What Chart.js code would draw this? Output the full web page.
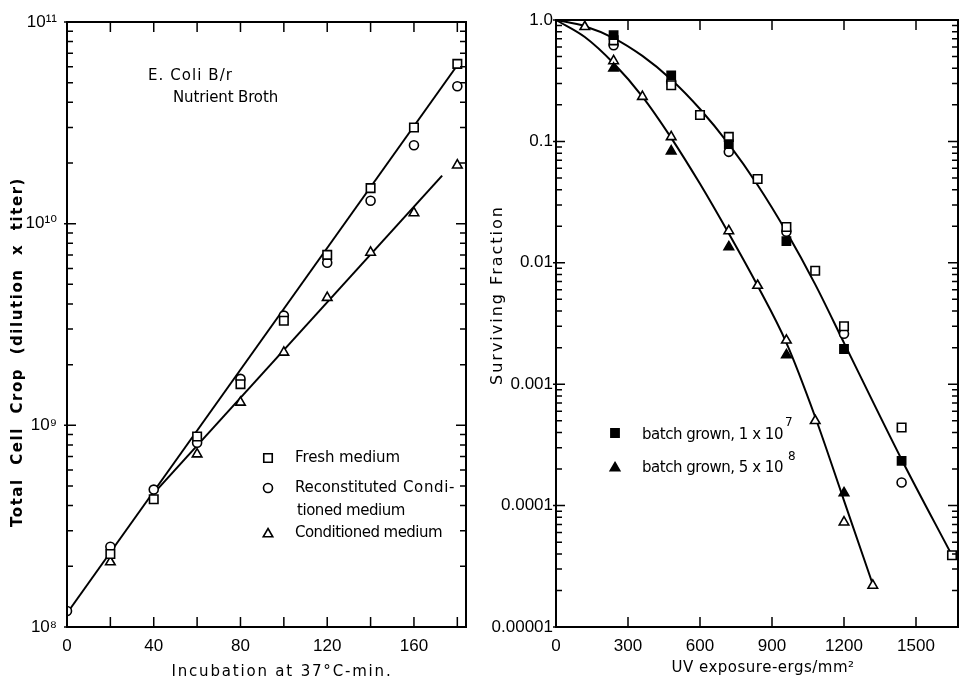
<!DOCTYPE html>
<html>
<head>
<meta charset="utf-8">
<script src="https://cdn.jsdelivr.net/npm/chart.js@4.4.0/dist/chart.umd.min.js"></script>
<style>
  body { margin: 0; background: #fff; }
  #wrap { position: relative; width: 960px; height: 684px; }
  canvas { position: absolute; top: 0; }
</style>
</head>
<body>
<div id="wrap">
  <canvas id="growth" width="480" height="684" style="left:0"></canvas>
  <canvas id="survival" width="480" height="684" style="left:480px"></canvas>
</div>
<script>
// ---- left panel: growth, incubation at 37 C (min) ----
const minutes   = [0, 20, 40, 60, 80, 100, 120, 140, 160, 180];
const freshCrop = [null, 2.3e8, 4.3e8, 8.8e8, 1.6e9, 3.3e9, 7.0e9, 1.5e10, 3.0e10, 6.2e10];
const reconCrop = [1.2e8, 2.5e8, 4.8e8, 8.2e8, 1.7e9, 3.5e9, 6.4e9, 1.3e10, 2.45e10, 4.8e10];
const condCrop  = [null, 2.1e8, null, 7.2e8, 1.3e9, 2.3e9, 4.3e9, 7.2e9, 1.13e10, 1.95e10];
const freshFitX = [0, 180];
const freshFitY = [1.17e8, 6.1e10];
const condFitX  = [40, 173];
const condFitY  = [4.6e8, 1.73e10];
const timeTicks  = [0, 20, 40, 60, 80, 100, 120, 140, 160, 180];
const timeLabels = [0, 40, 80, 120, 160];
const cropDecades = [1e8, 1e9, 1e10, 1e11];
const cropLabels  = ['10⁸', '10⁹', '10¹⁰', '10¹¹'];

// ---- right panel: survival vs UV dose ----
const sqDose   = [240, 480, 600, 720, 840, 960, 1080, 1200, 1440, 1650];
const sqFrac   = [0.68, 0.29, 0.165, 0.109, 0.049, 0.0197, 0.0086, 0.003, 0.00044, 0.000039];
const circDose = [240, 480, 720, 960, 1200, 1440];
const circFrac = [0.62, 0.31, 0.082, 0.018, 0.0026, 0.000155];
const fsqDose  = [240, 480, 720, 960, 1200, 1440];
const fsqFrac  = [0.75, 0.35, 0.095, 0.0151, 0.00195, 0.000234];
const triDose  = [120, 240, 360, 480, 720, 840, 960, 1080, 1200, 1320];
const triFrac  = [0.88, 0.46, 0.234, 0.109, 0.0183, 0.0065, 0.0023, 0.0005, 0.000073, 0.000022];
const ftriDose = [240, 480, 720, 960, 1200];
const ftriFrac = [0.40, 0.083, 0.0135, 0.00174, 0.000127];
// drawn survival curves
const upperDose = [0, 120, 240, 360, 480, 600, 720, 840, 960, 1080, 1200, 1440, 1650];
const upperFrac = [1.0, 0.889, 0.71, 0.506, 0.324, 0.185, 0.095, 0.0438, 0.018, 0.00664, 0.00219, 0.00024, 0.0000389];
const lowerDose = [0, 120, 240, 360, 480, 600, 720, 840, 960, 1080, 1200, 1320];
const lowerFrac = [1.0, 0.724, 0.44, 0.234, 0.107, 0.0447, 0.0174, 0.00646, 0.00219, 0.000537, 0.00011, 0.0000224];
const doseTicks = [0, 300, 600, 900, 1200, 1500];
const fracDecades = [1e-5, 1e-4, 1e-3, 1e-2, 1e-1, 1];
const fracLabels  = ['0.00001', '0.0001', '0.001', '0.01', '0.1', '1.0'];

const FONT = '"Liberation Sans", "DejaVu Sans", Arial, sans-serif';
const TFONT = '"DejaVu Sans", "Liberation Sans", sans-serif';

const pts = (xs, ys) => xs.map((x, i) => ({ x: x, y: ys[i] })).filter(p => p.y != null);
const minors = dec => {
  const out = [];
  dec.slice(0, -1).forEach(d => { for (let k = 2; k <= 9; k++) out.push(d * k); });
  return out;
};

function marker(label, data, style, r, filled) {
  return {
    label: label, data: data, pointStyle: style, pointRadius: r,
    pointBackgroundColor: filled ? '#000' : '#fff', pointBorderColor: '#000',
    pointBorderWidth: 1.6, showLine: false, order: 0
  };
}
function fit(data) {
  return {
    data: data, showLine: true, pointRadius: 0, borderColor: '#000', borderWidth: 2,
    cubicInterpolationMode: 'monotone', tension: 0.4, order: 1, clip: 4
  };
}

// draws the box and inward tick marks
function frame(xTicks, yMajor, yMinor) {
  return {
    id: 'frame',
    afterDraw(chart) {
      const { ctx, chartArea: a, scales: { x, y } } = chart;
      ctx.save();
      ctx.strokeStyle = '#000';
      ctx.lineWidth = 2;
      ctx.strokeRect(a.left, a.top, a.right - a.left, a.bottom - a.top);
      ctx.lineWidth = 1.5;
      ctx.beginPath();
      xTicks.forEach(v => {
        const p = x.getPixelForValue(v);
        ctx.moveTo(p, a.bottom); ctx.lineTo(p, a.bottom - 10);
        ctx.moveTo(p, a.top); ctx.lineTo(p, a.top + 10);
      });
      yMajor.forEach(v => {
        const p = y.getPixelForValue(v);
        ctx.moveTo(a.left - 3, p); ctx.lineTo(a.left + 9, p);
        ctx.moveTo(a.right, p); ctx.lineTo(a.right - 10, p);
      });
      yMinor.forEach(v => {
        const p = y.getPixelForValue(v);
        ctx.moveTo(a.left, p); ctx.lineTo(a.left + 6, p);
        ctx.moveTo(a.right, p); ctx.lineTo(a.right - 6, p);
      });
      ctx.stroke();
      ctx.restore();
    }
  };
}

function drawMark(ctx, style, x, y, r, filled) {
  ctx.beginPath();
  if (style === 'rect') {
    const s = r * Math.SQRT1_2;
    ctx.rect(x - s, y - s, 2 * s, 2 * s);
  } else if (style === 'circle') {
    ctx.arc(x, y, r, 0, Math.PI * 2);
  } else {
    ctx.moveTo(x, y - r);
    ctx.lineTo(x + r * Math.sin(Math.PI / 3), y + r / 2);
    ctx.lineTo(x - r * Math.sin(Math.PI / 3), y + r / 2);
    ctx.closePath();
  }
  ctx.fillStyle = filled ? '#000' : '#fff';
  ctx.fill();
  ctx.lineWidth = 1.6;
  ctx.strokeStyle = '#000';
  ctx.stroke();
}

// free text and legend keys
function notes(texts, keys) {
  return {
    id: 'notes',
    afterDraw(chart) {
      const ctx = chart.ctx;
      keys.forEach(k => { ctx.save(); drawMark(ctx, k.s, k.x, k.y, k.r, k.f); ctx.restore(); });
      texts.forEach(it => {
        ctx.save();
        ctx.font = it.font || ('15px ' + TFONT);
        ctx.fillStyle = '#000';
        ctx.textBaseline = 'middle';
        ctx.textAlign = it.align || 'left';
        ctx.translate(it.x, it.y);
        if (it.rot) ctx.rotate(it.rot);
        if (it.w) {
          ctx.letterSpacing = '0px';
          const w0 = ctx.measureText(it.t).width;
          ctx.letterSpacing = ((it.w - w0) / it.t.length) + 'px';
        }
        ctx.fillText(it.t, 0, 0);
        ctx.restore();
      });
    }
  };
}

function axes(xMax, xLabels, yMin, yMax, yDec, yLab, yWidth, yPad) {
  return {
    x: {
      type: 'linear', min: 0, max: xMax,
      afterBuildTicks: s => { s.ticks = xLabels.map(v => ({ value: v })); },
      afterFit: s => { s.height = 57; s.paddingLeft = 0; s.paddingRight = 0; },
      grid: { display: false, drawTicks: false }, border: { display: false },
      ticks: { color: '#000', padding: 9, font: { family: FONT, size: 17 }, callback: v => String(v) }
    },
    y: {
      type: 'logarithmic', min: yMin, max: yMax,
      afterBuildTicks: s => { s.ticks = yDec.map(v => ({ value: v })); },
      afterFit: s => { s.width = yWidth; s.paddingTop = 0; s.paddingBottom = 0; },
      grid: { display: false, drawTicks: false }, border: { display: false },
      ticks: {
        color: '#000', padding: yPad, font: { family: FONT, size: 17 },
        callback: (v, i) => yLab[i]
      }
    }
  };
}

const common = {
  responsive: false, animation: false,
  plugins: { legend: { display: false }, tooltip: { enabled: false } }
};

new Chart(document.getElementById('growth'), {
  type: 'scatter',
  data: {
    datasets: [
      marker('Fresh medium', pts(minutes, freshCrop), 'rect', 6, false),
      marker('Reconstituted Conditioned medium', pts(minutes, reconCrop), 'circle', 4.5, false),
      marker('Conditioned medium', pts(minutes, condCrop), 'triangle', 5.5, false),
      fit(pts(freshFitX, freshFitY)),
      fit(pts(condFitX, condFitY))
    ]
  },
  options: Object.assign({}, common, {
    layout: { autoPadding: false, padding: { left: 0, right: 14, top: 22, bottom: 0 } },
    scales: axes(184, timeLabels, 1e8, 1e11, cropDecades, cropLabels, 67, 10)
  }),
  plugins: [
    frame(timeTicks, cropDecades, minors(cropDecades)),
    notes([
      { t: 'Total  Cell  Crop  (dilution  x  titer)', x: 18, y: 352, w: 350, rot: -Math.PI / 2, align: 'center', font: 'bold 15px ' + TFONT },
      { t: 'Incubation at 37°C-min.', x: 282, y: 672, w: 221, align: 'center' },
      { t: 'E. Coli B/r', x: 148, y: 76, w: 85 },
      { t: 'Nutrient Broth', x: 173, y: 98, w: 105 },
      { t: 'Fresh medium', x: 295, y: 458, w: 105 },
      { t: 'Reconstituted', x: 295, y: 488, w: 102 },
      { t: 'Condi-', x: 455, y: 488, w: 52, align: 'right' },
      { t: 'tioned medium', x: 297, y: 511, w: 108 },
      { t: 'Conditioned medium', x: 295, y: 533, w: 147 }
    ], [
      { s: 'rect', x: 268, y: 458, r: 6, f: false },
      { s: 'circle', x: 268, y: 488, r: 4.5, f: false },
      { s: 'triangle', x: 268, y: 534, r: 5.5, f: false }
    ])
  ]
});

new Chart(document.getElementById('survival'), {
  type: 'scatter',
  data: {
    datasets: [
      marker('batch grown, 1 x 10^7', pts(fsqDose, fsqFrac), 'rect', 5.8, true),
      marker('batch grown, 5 x 10^8', pts(ftriDose, ftriFrac), 'triangle', 5.5, true),
      marker('squares', pts(sqDose, sqFrac), 'rect', 6, false),
      marker('circles', pts(circDose, circFrac), 'circle', 4.5, false),
      marker('triangles', pts(triDose, triFrac), 'triangle', 5.5, false),
      fit(pts(upperDose, upperFrac)),
      fit(pts(lowerDose, lowerFrac))
    ]
  },
  options: Object.assign({}, common, {
    layout: { autoPadding: false, padding: { left: 0, right: 2, top: 20, bottom: 0 } },
    scales: axes(1675, doseTicks, 1e-5, 1, fracDecades, fracLabels, 76, 3)
  }),
  plugins: [
    frame(doseTicks, fracDecades, minors(fracDecades)),
    notes([
      { t: 'Surviving Fraction', x: 18, y: 295, w: 180, rot: -Math.PI / 2, align: 'center', font: '16px ' + TFONT },
      { t: 'UV exposure-ergs/mm²', x: 283, y: 668, w: 183, align: 'center' },
      { t: 'batch grown, 1 x 10', x: 162, y: 435, w: 141 },
      { t: '7', x: 305, y: 423, font: '12px ' + TFONT },
      { t: 'batch grown, 5 x 10', x: 162, y: 468, w: 141 },
      { t: '8', x: 308, y: 457, font: '12px ' + TFONT }
    ], [
      { s: 'rect', x: 135, y: 433, r: 5.8, f: true },
      { s: 'triangle', x: 135, y: 468, r: 5.5, f: true }
    ])
  ]
});
</script>
</body>
</html>
